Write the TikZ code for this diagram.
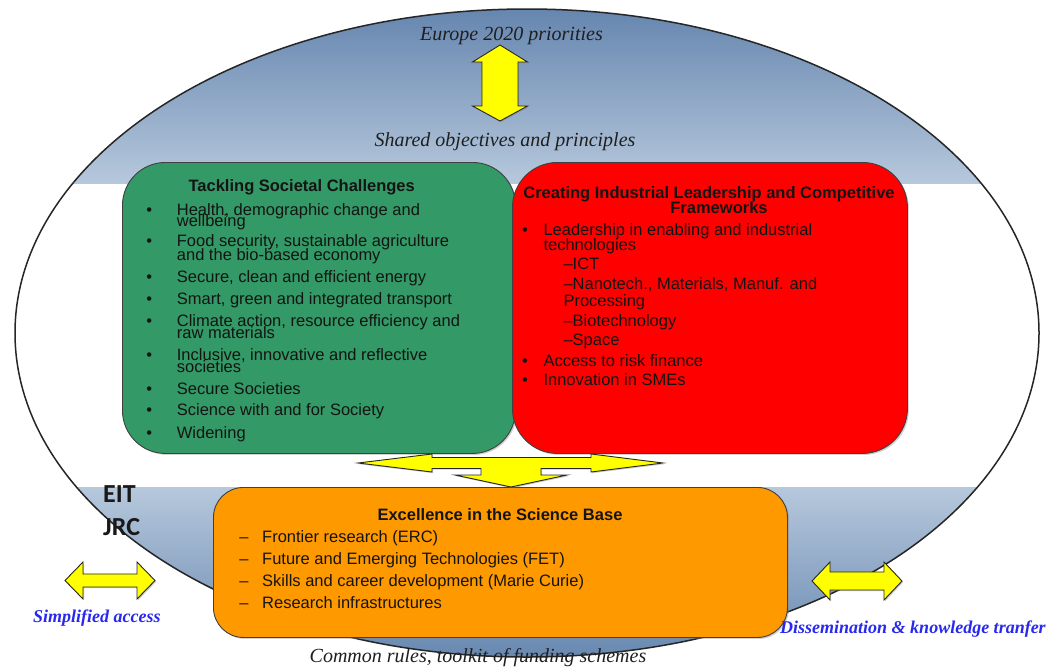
\documentclass[tikz,border=0pt]{standalone}
\usepackage{fontspec}
\setmainfont{Liberation Serif}
\setsansfont{Liberation Sans}
\newfontfamily\eitfont{Carlito}
\usetikzlibrary{shadows}
\definecolor{elltop}{RGB}{102,134,175}
\definecolor{elllight}{RGB}{182,200,220}
\definecolor{ellbottom}{RGB}{104,136,176}
\definecolor{boxgreen}{RGB}{51,153,102}
\definecolor{boxred}{RGB}{255,0,0}
\definecolor{boxorange}{RGB}{255,153,0}
\definecolor{arrowyellow}{RGB}{255,255,0}
\definecolor{labelblue}{RGB}{40,40,240}
\tikzset{
  panel/.style={draw=black!75, line width=0.9pt, anchor=north west, inner sep=0pt,
    drop shadow={shadow xshift=1.5pt, shadow yshift=-1.5pt, opacity=0.35}},
  yarrow/.style={fill=arrowyellow, draw=black!85, line width=0.9pt, line join=miter,
    drop shadow={shadow xshift=1.2pt, shadow yshift=-1.2pt, opacity=0.4}},
  itemtext/.style={font=\sffamily\fontsize{16.5}{18}\selectfont, anchor=base west, inner sep=0pt, text=black!92},
  boldtitle/.style={font=\sffamily\bfseries\fontsize{16.5}{18}\selectfont, anchor=base, inner sep=0pt, text=black!92},
  bulletmark/.style={font=\sffamily\fontsize{16.5}{18}\selectfont, anchor=base, inner sep=0pt, text=black!92},
  ittext/.style={font=\itshape\fontsize{20}{24}\selectfont, anchor=base, inner sep=0pt, text=black!88},
  bluelabel/.style={font=\bfseries\itshape\fontsize{18}{22}\selectfont, text=labelblue, anchor=base west, inner sep=0pt},
  eittext/.style={font=\eitfont\bfseries\fontsize{26}{30}\selectfont, anchor=base west, inner sep=0pt, text=black!90},
}
\begin{document}
\begin{tikzpicture}[x=1pt,y=-1pt]
\useasboundingbox (0,0) rectangle (1056,667);
\fill[white] (0,0) rectangle (1056,667);

% big ellipse background
\begin{scope}
  \clip (527,333) ellipse [x radius=512pt, y radius=324pt];
  \shade[top color=elltop, bottom color=elllight] (0,9) rectangle (1056,183);
  \shade[top color=elllight, bottom color=ellbottom] (0,487) rectangle (1056,658);
\end{scope}
\draw[line width=1.5pt, black!85] (527,333) ellipse [x radius=512pt, y radius=324pt];

% panels
\node[panel, fill=boxgreen, rounded corners=43pt, minimum width=393pt, minimum height=291pt] (green) at (122,162) {};
\node[panel, fill=boxred, rounded corners=45pt, minimum width=395pt, minimum height=291pt] (red) at (512,162) {};
\node[panel, fill=boxorange, rounded corners=30pt, minimum width=574pt, minimum height=150pt] (orange) at (213,487) {};

% yellow block arrows
\draw[yarrow] (500,45) -- (527.5,62) -- (518,62) -- (518,106) -- (527.5,106) -- (500,121)
  -- (472.5,106) -- (482,106) -- (482,62) -- (472.5,62) -- cycle;
\draw[yarrow] (358,463) -- (432,454) -- (432,457.5) -- (591,457.5) -- (591,454) -- (663,463)
  -- (591,472) -- (591,468.5) -- (541,468.5) -- (541,475) -- (567,475) -- (511,487)
  -- (455,475) -- (481,475) -- (481,468.5) -- (432,468.5) -- (432,472) -- cycle;
\draw[yarrow] (65,580.5) -- (83,562) -- (83,574) -- (137,574) -- (137,562) -- (155,580.5)
  -- (137,599) -- (137,587) -- (83,587) -- (83,599) -- cycle;
\draw[yarrow] (812,581) -- (830,562) -- (830,572) -- (884,572) -- (884,562) -- (902,581)
  -- (884,600) -- (884,590) -- (830,590) -- (830,600) -- cycle;

% italic captions
\node[ittext] (europe) at (511.5,40) {Europe 2020 priorities};
\node[ittext] (shared) at (505,146) {Shared objectives and principles};
\node[ittext] (common) at (478,662) {Common rules, toolkit of funding schemes};

% blue labels
\node[bluelabel] (simpl) at (33,622) {Simplified access};
\node[bluelabel] (dissem) at (780,633) {Dissemination \& knowledge tranfer};

% EIT / JRC
\node[eittext] (eit) at (103,502) {EIT};
\node[eittext] (jrc) at (103,535) {JRC};

% green panel text
\node[boldtitle] (gt) at (301.7,191.5) {Tackling Societal Challenges};
\foreach \y [count=\i] in {215,246.7,282.3,304.3,326,360,394.3,415.7,438.3}
  \node[bulletmark] (gb\i) at (149.3,\y) {•};
\node[itemtext] (g1a) at (176.7,215) {Health, demographic change and};
\node[itemtext] (g1b) at (176.7,226.7) {wellbeing};
\node[itemtext] (g2a) at (176.7,246.7) {Food security, sustainable agriculture};
\node[itemtext] (g2b) at (176.7,260) {and the bio-based economy};
\node[itemtext] (g3) at (176.7,282.3) {Secure, clean and efficient energy};
\node[itemtext] (g4) at (176.7,304.3) {Smart, green and integrated transport};
\node[itemtext] (g5a) at (176.7,326) {Climate action, resource efficiency and};
\node[itemtext] (g5b) at (176.7,338.3) {raw materials};
\node[itemtext] (g6a) at (176.7,360) {Inclusive, innovative and reflective};
\node[itemtext] (g6b) at (176.7,372.3) {societies};
\node[itemtext] (g7) at (176.7,394.3) {Secure Societies};
\node[itemtext] (g8) at (176.7,415.7) {Science with and for Society};
\node[itemtext] (g9) at (176.7,438.3) {Widening};

% red panel text
\node[boldtitle] (rt1) at (709,198.3) {Creating Industrial Leadership and Competitive};
\node[boldtitle] (rt2) at (719,213.3) {Frameworks};
\foreach \y [count=\i] in {235,366,385}
  \node[bulletmark] (rb\i) at (525,\y) {•};
\node[itemtext] (r1a) at (543.3,235) {Leadership in enabling and industrial};
\node[itemtext] (r1b) at (543.3,250) {technologies};
\node[itemtext] (r2) at (563.3,269.3) {–ICT};
\node[itemtext] (r3a) at (563.3,289.3) {–Nanotech., Materials, Manuf. and};
\node[itemtext] (r3b) at (563.3,306.7) {Processing};
\node[itemtext] (r4) at (563.3,326) {–Biotechnology};
\node[itemtext] (r5) at (563.3,345.7) {–Space};
\node[itemtext] (r6) at (543.3,366) {Access to risk finance};
\node[itemtext] (r7) at (543.3,385) {Innovation in SMEs};

% orange panel text
\node[boldtitle] (ot) at (500,520) {Excellence in the Science Base};
\foreach \y [count=\i] in {542,564,586,608}
  \node[bulletmark] (ob\i) at (244,\y) {–};
\node[itemtext] (o1) at (262,542) {Frontier research (ERC)};
\node[itemtext] (o2) at (262,564) {Future and Emerging Technologies (FET)};
\node[itemtext] (o3) at (262,586) {Skills and career development (Marie Curie)};
\node[itemtext] (o4) at (262,608) {Research infrastructures};
\end{tikzpicture}
\end{document}
